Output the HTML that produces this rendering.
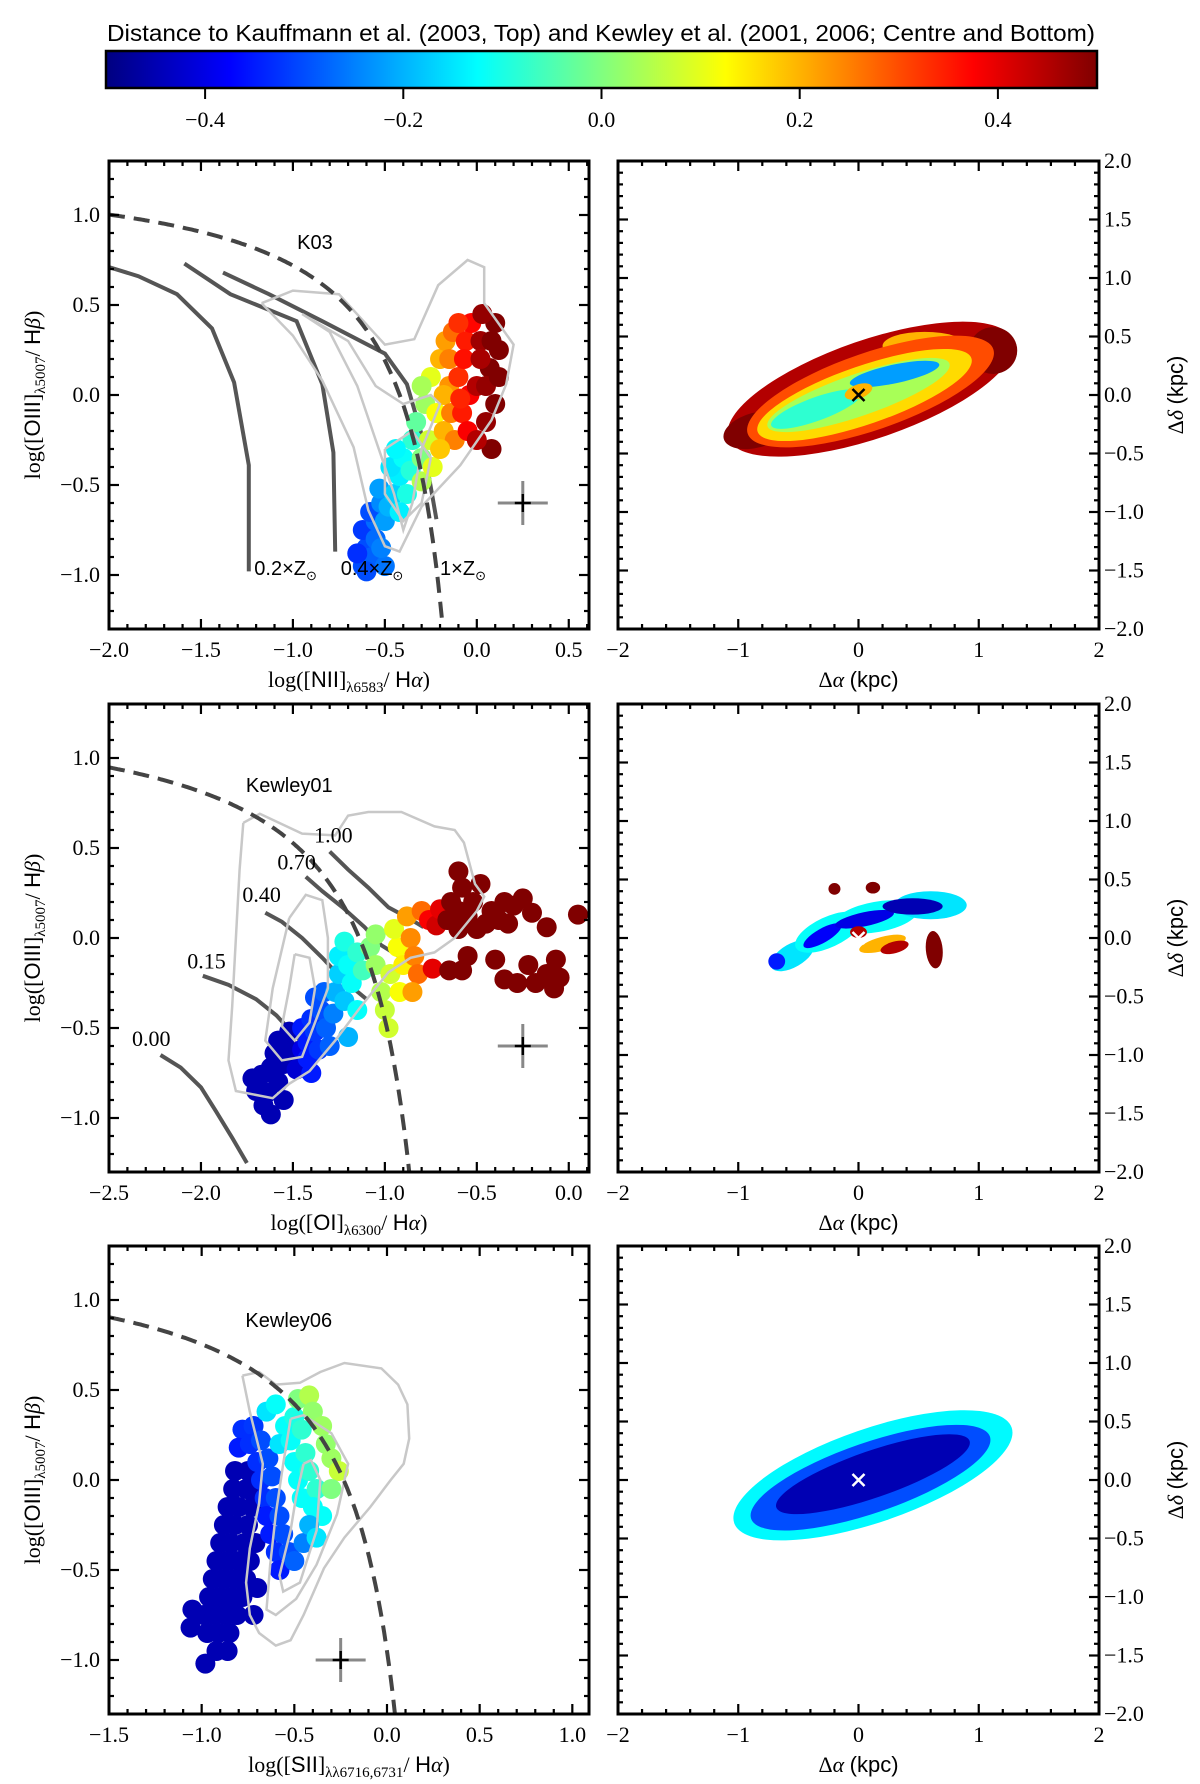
<!DOCTYPE html>
<html><head><meta charset="utf-8">
<style>
html,body{margin:0;padding:0;background:#fff;}
svg{display:block;}
text{font-family:"Liberation Serif",serif;}
.sans{font-family:"Liberation Sans",sans-serif;}
</style></head>
<body>
<svg id="fig" width="1200" height="1784" viewBox="0 0 1200 1784" xmlns="http://www.w3.org/2000/svg"></svg>
<script>
// ---------- DATA ----------
const cbarTicks = [-0.4,-0.2,0.0,0.2,0.4];
const nIIPoints = [
[-0.62,-0.95,-0.3],[-0.6,-0.85,-0.3],[-0.62,-0.75,-0.32],[-0.57,-0.9,-0.28],[-0.55,-0.8,-0.27],[-0.55,-0.7,-0.27],[-0.58,-0.65,-0.3],[-0.52,-0.6,-0.24],[-0.5,-0.7,-0.22],[-0.53,-0.52,-0.22],[-0.5,-0.95,-0.26],[-0.65,-0.88,-0.33],[-0.6,-0.98,-0.3],[-0.52,-0.85,-0.25],[-0.48,-0.62,-0.2],
[-0.45,-0.55,-0.17],[-0.42,-0.45,-0.14],[-0.47,-0.4,-0.15],[-0.4,-0.35,-0.12],[-0.38,-0.55,-0.1],[-0.42,-0.65,-0.14],[-0.35,-0.25,-0.08],[-0.44,-0.3,-0.13],[-0.36,-0.42,-0.09],
[-0.33,-0.15,-0.03],[-0.3,-0.35,0.0],[-0.28,-0.05,0.03],[-0.26,-0.25,0.08],[-0.3,-0.48,0.05],[-0.22,-0.1,0.12],[-0.25,0.1,0.1],[-0.3,0.05,0.04],[-0.24,-0.4,0.1],
[-0.2,0.2,0.2],[-0.18,-0.2,0.2],[-0.15,0.05,0.23],[-0.17,0.3,0.22],[-0.12,-0.25,0.25],[-0.2,-0.3,0.18],[-0.13,0.35,0.27],[-0.18,0.0,0.2],[-0.14,-0.1,0.25],[-0.15,0.2,0.25],
[-0.1,0.1,0.33],[-0.08,-0.1,0.35],[-0.06,0.3,0.35],[-0.05,-0.2,0.38],[-0.03,0.4,0.37],[-0.1,0.4,0.33],[-0.07,0.2,0.36],[-0.04,0.0,0.38],[-0.09,-0.02,0.34],
[0.0,0.05,0.45],[0.02,0.3,0.47],[0.05,-0.15,0.48],[0.07,0.15,0.5],[0.1,0.4,0.5],[0.1,-0.05,0.5],[0.12,0.25,0.5],[0.03,0.45,0.48],[0.08,-0.3,0.5],[0.0,-0.25,0.45],[0.05,0.05,0.48],[0.02,0.2,0.46],[0.12,0.1,0.5],[0.08,0.3,0.5]
];
const oIPoints = [
[-1.72,-0.78,-0.45],[-1.67,-0.76,-0.45],[-1.7,-0.85,-0.45],[-1.64,-0.86,-0.45],[-1.66,-0.93,-0.45],[-1.62,-0.72,-0.45],[-1.58,-0.8,-0.45],[-1.55,-0.7,-0.45],[-1.6,-0.64,-0.45],[-1.53,-0.6,-0.45],[-1.5,-0.66,-0.45],[-1.55,-0.9,-0.45],[-1.48,-0.73,-0.42],[-1.45,-0.62,-0.4],[-1.58,-0.57,-0.45],[-1.52,-0.52,-0.45],[-1.62,-0.98,-0.45],
[-1.45,-0.5,-0.35],[-1.42,-0.58,-0.35],[-1.4,-0.45,-0.33],[-1.38,-0.52,-0.32],[-1.42,-0.67,-0.35],[-1.36,-0.62,-0.32],[-1.35,-0.4,-0.3],[-1.32,-0.5,-0.28],[-1.3,-0.6,-0.28],[-1.38,-0.33,-0.3],[-1.33,-0.3,-0.28],[-1.28,-0.42,-0.25],[-1.4,-0.75,-0.35],
[-1.27,-0.3,-0.2],[-1.25,-0.2,-0.17],[-1.22,-0.35,-0.18],[-1.25,-0.1,-0.14],[-1.2,-0.15,-0.12],[-1.18,-0.25,-0.12],[-1.22,-0.02,-0.1],[-1.15,-0.08,-0.08],[-1.15,-0.4,-0.12],[-1.12,-0.18,-0.06],[-1.2,-0.55,-0.2],
[-1.08,-0.05,0.0],[-1.05,-0.15,0.03],[-1.02,-0.3,0.05],[-1.0,-0.4,0.07],[-0.98,-0.5,0.08],[-1.05,0.02,0.02],[-0.97,-0.2,0.08],[-0.93,-0.05,0.12],[-0.92,-0.3,0.12],[-0.95,0.05,0.1],[-0.9,-0.15,0.14],
[-0.88,0.12,0.22],[-0.86,0.0,0.24],[-0.84,-0.1,0.25],[-0.82,-0.2,0.27],[-0.85,-0.3,0.22],[-0.8,0.15,0.27],
[-0.76,0.1,0.38],[-0.74,-0.17,0.4],[-0.72,0.07,0.42],[-0.7,0.16,0.4],
[-0.66,0.1,0.5],[-0.64,0.2,0.5],[-0.6,0.15,0.5],[-0.6,0.05,0.5],[-0.55,0.12,0.5],[-0.52,0.2,0.5],[-0.58,0.28,0.5],[-0.5,0.05,0.5],[-0.48,0.3,0.5],[-0.45,0.08,0.5],[-0.42,0.15,0.5],[-0.38,0.1,0.5],[-0.35,0.2,0.5],[-0.33,0.08,0.5],[-0.3,0.18,0.5],[-0.6,0.37,0.5],[-0.55,-0.1,0.5],[-0.4,-0.12,0.5],[-0.35,-0.23,0.5],[-0.28,-0.25,0.5],[-0.22,-0.15,0.5],[-0.18,-0.25,0.5],[-0.12,-0.2,0.5],[-0.08,-0.28,0.5],[-0.05,-0.22,0.5],[-0.25,0.22,0.5],[-0.2,0.14,0.5],[-0.12,0.06,0.5],[-0.07,-0.12,0.5],[0.05,0.13,0.5],[-0.58,-0.18,0.5],[-0.65,-0.18,0.5]
];
const sIIPoints = [
[-0.82,0.05,-0.45],[-0.75,0.05,-0.45],[-0.83,-0.05,-0.45],[-0.76,-0.05,-0.45],[-0.7,-0.05,-0.45],[-0.86,-0.15,-0.45],[-0.8,-0.15,-0.45],[-0.73,-0.15,-0.45],[-0.88,-0.25,-0.45],[-0.82,-0.25,-0.45],[-0.75,-0.25,-0.45],
[-0.9,-0.35,-0.45],[-0.84,-0.35,-0.45],[-0.77,-0.35,-0.45],[-0.71,-0.35,-0.45],[-0.92,-0.45,-0.45],[-0.86,-0.45,-0.45],[-0.8,-0.45,-0.45],[-0.74,-0.45,-0.45],[-0.94,-0.55,-0.45],[-0.88,-0.55,-0.45],[-0.82,-0.55,-0.45],[-0.76,-0.55,-0.45],
[-0.96,-0.65,-0.45],[-0.9,-0.65,-0.45],[-0.84,-0.65,-0.45],[-0.78,-0.65,-0.45],[-0.99,-0.75,-0.45],[-0.93,-0.75,-0.45],[-0.87,-0.75,-0.45],[-0.81,-0.75,-0.45],[-0.97,-0.85,-0.45],[-0.91,-0.85,-0.45],[-0.85,-0.85,-0.45],[-0.92,-0.95,-0.45],[-0.86,-0.95,-0.45],
[-1.05,-0.72,-0.45],[-1.06,-0.82,-0.45],[-0.98,-1.02,-0.45],[-0.7,-0.6,-0.45],[-0.72,-0.75,-0.45],
[-0.78,0.28,-0.33],[-0.72,0.3,-0.32],[-0.8,0.18,-0.35],[-0.74,0.2,-0.33],[-0.68,0.22,-0.3],[-0.7,0.1,-0.33],[-0.64,0.12,-0.3],[-0.68,0.0,-0.33],[-0.62,0.02,-0.3],[-0.66,-0.1,-0.33],[-0.6,-0.1,-0.3],[-0.65,-0.2,-0.35],[-0.58,-0.2,-0.3],[-0.63,-0.3,-0.35],[-0.56,-0.3,-0.3],[-0.6,-0.4,-0.33],[-0.53,-0.4,-0.3],[-0.58,-0.5,-0.35],[-0.5,-0.45,-0.28],[-0.45,-0.35,-0.25],
[-0.65,0.38,-0.15],[-0.6,0.42,-0.12],[-0.55,0.3,-0.12],[-0.5,0.35,-0.1],[-0.58,0.2,-0.15],[-0.52,0.22,-0.12],[-0.46,0.28,-0.08],[-0.5,0.1,-0.12],[-0.44,0.15,-0.08],[-0.48,0.0,-0.12],[-0.42,0.05,-0.08],[-0.46,-0.1,-0.12],[-0.38,-0.05,-0.08],[-0.4,-0.15,-0.12],[-0.35,-0.2,-0.12],[-0.42,-0.25,-0.2],[-0.38,-0.32,-0.15],
[-0.48,0.45,0.0],[-0.42,0.47,0.05],[-0.4,0.38,0.02],[-0.35,0.3,0.03],[-0.33,0.2,0.02],[-0.3,0.12,0.03],[-0.26,0.05,0.07],[-0.3,-0.05,0.0]
];
const nIIContours = [
[[-1.17,0.51],[-1.0,0.58],[-0.75,0.56],[-0.5,0.28],[-0.34,0.31],[-0.21,0.61],[-0.05,0.75],[0.04,0.71],[0.04,0.51],[0.2,0.28],[0.16,0.06],[0.08,-0.14],[-0.09,-0.39],[-0.3,-0.62],[-0.42,-0.87],[-0.5,-0.84],[-0.59,-0.64],[-0.67,-0.29],[-0.84,0.08],[-1.0,0.33],[-1.17,0.51]],
[[-0.95,0.45],[-0.8,0.35],[-0.65,0.05],[-0.55,-0.25],[-0.45,-0.55],[-0.4,-0.75],[-0.35,-0.6],[-0.3,-0.3],[-0.2,-0.05],[-0.25,0.0],[-0.4,-0.05],[-0.55,0.05],[-0.7,0.3],[-0.95,0.45]],
[[-0.5,-0.3],[-0.35,-0.2],[-0.25,-0.35],[-0.3,-0.6],[-0.4,-0.7],[-0.5,-0.55],[-0.5,-0.3]]
];
const oIContours = [
[[-1.77,0.64],[-1.68,0.69],[-1.45,0.58],[-1.27,0.57],[-1.2,0.68],[-1.09,0.70],[-0.91,0.70],[-0.73,0.62],[-0.62,0.60],[-0.57,0.53],[-0.51,0.30],[-0.46,0.23],[-0.5,0.15],[-0.62,0.0],[-0.73,-0.08],[-0.86,-0.11],[-0.98,-0.19],[-1.13,-0.38],[-1.27,-0.57],[-1.41,-0.74],[-1.52,-0.81],[-1.61,-0.89],[-1.81,-0.85],[-1.85,-0.68],[-1.83,-0.38],[-1.81,0.0],[-1.79,0.38],[-1.77,0.64]],
[[-1.52,0.11],[-1.43,0.24],[-1.34,0.21],[-1.31,0],[-1.31,-0.28],[-1.38,-0.47],[-1.45,-0.66],[-1.56,-0.68],[-1.65,-0.57],[-1.61,-0.28],[-1.52,0.11]],
[[-1.49,-0.09],[-1.41,-0.11],[-1.38,-0.28],[-1.41,-0.47],[-1.49,-0.57],[-1.56,-0.49],[-1.52,-0.28],[-1.49,-0.09]]
];
const sIIContours = [
[[-0.78,0.58],[-0.69,0.60],[-0.6,0.53],[-0.47,0.54],[-0.36,0.60],[-0.23,0.65],[-0.03,0.62],[0.06,0.53],[0.11,0.42],[0.12,0.23],[0.09,0.09],[0.02,0],[-0.09,-0.15],[-0.23,-0.32],[-0.34,-0.49],[-0.45,-0.75],[-0.52,-0.89],[-0.6,-0.92],[-0.69,-0.85],[-0.74,-0.75],[-0.76,-0.57],[-0.74,-0.38],[-0.69,-0.13],[-0.67,0.09],[-0.74,0.38],[-0.78,0.58]],
[[-0.52,0.34],[-0.45,0.36],[-0.30,0.26],[-0.21,0.09],[-0.27,-0.19],[-0.38,-0.47],[-0.49,-0.66],[-0.6,-0.75],[-0.65,-0.72],[-0.63,-0.47],[-0.6,-0.19],[-0.56,0.09],[-0.52,0.34]],
[[-0.45,0.09],[-0.41,0.11],[-0.36,0],[-0.38,-0.28],[-0.47,-0.57],[-0.56,-0.62],[-0.58,-0.53],[-0.52,-0.28],[-0.49,-0.09],[-0.45,0.09]]
];
const nIIModels = [
[[-2,0.71],[-1.84,0.66],[-1.63,0.56],[-1.44,0.37],[-1.32,0.07],[-1.24,-0.39],[-1.24,-0.98]],
[[-1.59,0.73],[-1.34,0.56],[-0.98,0.41],[-0.84,0.06],[-0.78,-0.32],[-0.77,-0.87]],
[[-1.38,0.68],[-1.13,0.56],[-0.84,0.41],[-0.5,0.23],[-0.38,0.06],[-0.3,-0.22],[-0.22,-0.69]]
];
const nIIModelLabels = ["0.2×Z","0.4×Z","1×Z"];
const nIIModelLabelPos = [[-1.21,-0.96],[-0.74,-0.96],[-0.2,-0.96]];
const oIModels = [
[[-2.22,-0.65],[-2.11,-0.72],[-2.0,-0.83],[-1.92,-0.96],[-1.83,-1.11],[-1.75,-1.25]],
[[-1.99,-0.21],[-1.85,-0.26],[-1.7,-0.34],[-1.59,-0.43],[-1.49,-0.54],[-1.36,-0.67]],
[[-1.65,0.14],[-1.56,0.09],[-1.45,0],[-1.34,-0.11],[-1.23,-0.23],[-1.1,-0.34]],
[[-1.43,0.34],[-1.34,0.26],[-1.23,0.17],[-1.11,0.06],[-1.02,-0.04],[-0.91,-0.11]],
[[-1.3,0.48],[-1.2,0.38],[-1.09,0.28],[-0.98,0.17],[-0.87,0.11],[-0.79,0.06]]
];
const oIModelLabels = ["0.00","0.15","0.40","0.70","1.00"];
const oIModelLabelPos = [[-2.27,-0.56],[-1.97,-0.13],[-1.67,0.24],[-1.48,0.42],[-1.28,0.57]];
// maps: ellipse layers [cx, cy, rx, ry, angleDeg, distance]
const map1Layers = [
[0.1,0.05,1.25,0.42,19,0.45],[1.12,0.38,0.2,0.2,0,0.5],[-0.85,-0.3,0.28,0.15,15,0.5],[0.55,0.42,0.35,0.12,0,0.2],
[0.1,0.03,1.08,0.33,19,0.3],[0.05,0.0,0.94,0.25,19,0.16],[0.0,0.0,0.8,0.18,19,0.04],
[-0.35,-0.12,0.4,0.1,20,-0.08],[0.3,0.18,0.38,0.08,12,-0.22],[0.0,0.03,0.12,0.06,20,0.2]
];
const map2Layers = [
[-0.55,-0.15,0.2,0.1,30,-0.15],[-0.25,0.05,0.3,0.13,25,-0.12],[0.15,0.18,0.35,0.13,10,-0.12],[0.6,0.28,0.3,0.12,0,-0.15],
[-0.3,0.02,0.18,0.06,30,-0.38],[0.05,0.16,0.25,0.06,12,-0.4],[0.45,0.27,0.25,0.07,0,-0.45],[-0.68,-0.2,0.07,0.07,0,-0.35],
[0.2,-0.05,0.2,0.06,15,0.2],[0.3,-0.08,0.12,0.05,15,0.45],[0.0,0.05,0.07,0.05,0,0.45],
[0.63,-0.1,0.07,0.16,5,0.5],[-0.2,0.42,0.05,0.05,0,0.5],[0.12,0.43,0.06,0.05,0,0.5]
];
const map3Layers = [
[0.12,0.04,1.22,0.4,19,-0.13],[0.1,0.02,1.05,0.3,19,-0.3],[0.12,0.05,0.85,0.2,19,-0.45]
];

// ---------- HELPERS ----------
const NS="http://www.w3.org/2000/svg";
const svg=document.getElementById('fig');
function mk(tag,attrs,parent){const e=document.createElementNS(NS,tag);for(const k in attrs)e.setAttribute(k,attrs[k]);(parent||svg).appendChild(e);return e;}
function jet(v){let t=(v+0.5)/1.0;t=Math.max(0,Math.min(1,t));
 const c=x=>Math.round(255*Math.max(0,Math.min(1,x)));
 return `rgb(${c(1.5-Math.abs(4*t-3))},${c(1.5-Math.abs(4*t-2))},${c(1.5-Math.abs(4*t-1))})`;}
function fmt(v,d){const s=Math.abs(v).toFixed(d);return (v<-1e-9?'−':'')+s;}

// ---------- COLORBAR ----------
const defs=mk('defs',{});
const grad=mk('linearGradient',{id:'jetg',x1:'0',x2:'1',y1:'0',y2:'0'},defs);
for(let i=0;i<=40;i++){mk('stop',{offset:(i/40),'stop-color':jet(-0.5+i/40)},grad);}
const cb={x0:106,x1:1097,y0:51,y1:88};
const cbx=v=>cb.x0+(v+0.5)*(cb.x1-cb.x0);
let t=mk('text',{x:601,y:41,'text-anchor':'middle','font-size':23.5,class:'sans',textLength:988,lengthAdjust:'spacingAndGlyphs'});
t.textContent='Distance to Kauffmann et al. (2003, Top) and Kewley et al. (2001, 2006; Centre and Bottom)';


let r=mk('rect',{x:cb.x0,y:cb.y0,width:cb.x1-cb.x0,height:cb.y1-cb.y0,fill:'url(#jetg)',stroke:'#000','stroke-width':2.5});


cbarTicks.forEach(v=>{const x=cbx(v);mk('line',{x1:x,x2:x,y1:cb.y1,y2:cb.y1+11,stroke:'#000','stroke-width':2});
 const tt=mk('text',{x:x,y:127,'text-anchor':'middle','font-size':22});tt.textContent=fmt(v,1);
 
 });

// ---------- PANELS ----------
const rowsTop=[161,704,1246], PH=468;
function makeAxes(x0,y0,w,h,xmin,xmax,ymin,ymax){
 return {x0,y0,w,h,sx:v=>x0+(v-xmin)/(xmax-xmin)*w,sy:v=>y0+h-(v-ymin)/(ymax-ymin)*h,xmin,xmax,ymin,ymax};}
function drawTicks(ax,xMaj,xMin,yMaj,yMin,g){
 const L=10,l=5;
 const eps=1e-6;
 for(let v=Math.ceil(ax.xmin/xMin-eps)*xMin;v<=ax.xmax+eps;v+=xMin){
  const isMaj=Math.abs(v/xMaj-Math.round(v/xMaj))<1e-4;const len=isMaj?L:l;const x=ax.sx(v);
  mk('line',{x1:x,x2:x,y1:ax.y0+ax.h,y2:ax.y0+ax.h-len,stroke:'#000','stroke-width':2.2},g);
  mk('line',{x1:x,x2:x,y1:ax.y0,y2:ax.y0+len,stroke:'#000','stroke-width':2.2},g);}
 for(let v=Math.ceil(ax.ymin/yMin-eps)*yMin;v<=ax.ymax+eps;v+=yMin){
  const isMaj=Math.abs(v/yMaj-Math.round(v/yMaj))<1e-4;const len=isMaj?L:l;const y=ax.sy(v);
  mk('line',{x1:ax.x0,x2:ax.x0+len,y1:y,y2:y,stroke:'#000','stroke-width':2.2},g);
  mk('line',{x1:ax.x0+ax.w,x2:ax.x0+ax.w-len,y1:y,y2:y,stroke:'#000','stroke-width':2.2},g);}
}
function frame(ax,g){mk('rect',{x:ax.x0,y:ax.y0,width:ax.w,height:ax.h,fill:'none',stroke:'#000','stroke-width':3},g);}
function poly(ax,pts,attrs,g){const d=pts.map((p,i)=>(i?'L':'M')+ax.sx(p[0]).toFixed(1)+','+ax.sy(p[1]).toFixed(1)).join('');return mk('path',Object.assign({d:d,fill:'none'},attrs),g);}
function curve(ax,f,xa,xb,g){const pts=[];for(let i=0;i<=200;i++){const x=xa+(xb-xa)*i/200;const y=f(x);if(y>=ax.ymin-0.05&&y<=ax.ymax+0.05)pts.push([x,y]);}
 return poly(ax,pts,{stroke:'#444','stroke-width':4,'stroke-dasharray':'16,9'},g);}
function errCross(ax,x,y,g){
 const gx=ax.sx(x),gy=ax.sy(y);
 mk('line',{x1:gx-25,x2:gx+25,y1:gy,y2:gy,stroke:'#888','stroke-width':3},g);
 mk('line',{x1:gx,x2:gx,y1:gy-22,y2:gy+22,stroke:'#888','stroke-width':3},g);
 mk('line',{x1:gx-8,x2:gx+8,y1:gy,y2:gy,stroke:'#000','stroke-width':2.5},g);
 mk('line',{x1:gx,x2:gx,y1:gy-9,y2:gy+9,stroke:'#000','stroke-width':2.5},g);
}
function yLabelLeft(ax,g){
 const cx=40,cy=ax.y0+ax.h/2;
 const tx=mk('text',{x:0,y:0,'text-anchor':'middle','font-size':22,transform:`translate(${cx},${cy}) rotate(-90)`},g);
 tx.innerHTML='log([<tspan class="sans">OIII</tspan>]<tspan font-size="15" dy="5">λ5007</tspan><tspan dy="-5">/ </tspan><tspan class="sans">H</tspan><tspan font-style="italic">β</tspan>)';
 
 
}
function leftTickLabels(ax,xt,yt,g){
 xt.forEach(v=>{const e=mk('text',{x:ax.sx(v),y:ax.y0+ax.h+28,'text-anchor':'middle','font-size':22},g);e.textContent=fmt(v,1);
  
  });
 yt.forEach(v=>{const e=mk('text',{x:ax.x0-9,y:ax.sy(v)+7,'text-anchor':'end','font-size':22},g);e.textContent=fmt(v,1);
  
  });
}
function scatter(ax,pts,g,name){
 pts.forEach(p=>{const c=mk('circle',{cx:ax.sx(p[0]),cy:ax.sy(p[1]),r:10,fill:jet(p[2])},g);
  
  });
}

const xTicksMap=[-2,-1,0,1,2], yTicksMap=[2,1.5,1,0.5,0,-0.5,-1,-1.5,-2];
const yTicksLeft=[1.0,0.5,0.0,-0.5,-1.0];
const leftCfg=[
 {xmin:-2,xmax:0.61,xt:[-2,-1.5,-1,-0.5,0,0.5],xlab:'log([<tspan class="sans">NII</tspan>]<tspan font-size="15" dy="5">λ6583</tspan><tspan dy="-5">/ </tspan><tspan class="sans">H</tspan><tspan font-style="italic">α</tspan>)',pts:nIIPoints,cont:nIIContours,name:'bpt-nii'},
 {xmin:-2.5,xmax:0.11,xt:[-2.5,-2,-1.5,-1,-0.5,0],xlab:'log([<tspan class="sans">OI</tspan>]<tspan font-size="15" dy="5">λ6300</tspan><tspan dy="-5">/ </tspan><tspan class="sans">H</tspan><tspan font-style="italic">α</tspan>)',pts:oIPoints,cont:oIContours,name:'bpt-oi'},
 {xmin:-1.5,xmax:1.09,xt:[-1.5,-1,-0.5,0,0.5,1],xlab:'log([<tspan class="sans">SII</tspan>]<tspan font-size="15" dy="5">λλ6716,6731</tspan><tspan dy="-5">/ </tspan><tspan class="sans">H</tspan><tspan font-style="italic">α</tspan>)',pts:sIIPoints,cont:sIIContours,name:'bpt-sii'}
];
const demLabels=[['K03',-0.88,0.85],['Kewley01',-1.52,0.85],['Kewley06',-0.53,0.89]];
const mapLayers=[map1Layers,map2Layers,map3Layers];
const crossColors=['#000','#fff','#fff'];

leftCfg.forEach((cfg,i)=>{
 const g=mk('g',{});
 
 
 const ax=makeAxes(109,rowsTop[i],480,PH,cfg.xmin,cfg.xmax,-1.3,1.3);
 const clipId='clipL'+i;
 const cp=mk('clipPath',{id:clipId},defs);mk('rect',{x:ax.x0,y:ax.y0,width:ax.w,height:ax.h},cp);
 const inner=mk('g',{'clip-path':`url(#${clipId})`},g);
 if(i===0){
  nIIModels.forEach(m=>{const p=poly(ax,m,{stroke:'#555','stroke-width':4},inner);
   
   });
 }
 if(i===1){
  oIModels.forEach(m=>{const p=poly(ax,m,{stroke:'#555','stroke-width':4},inner);
   
   });
 }
 scatter(ax,cfg.pts,inner,'spaxel-point');
 cfg.cont.forEach(c=>{const p=poly(ax,c,{stroke:'#c8c8c8','stroke-width':2.5},inner);
  
  });
 let dl;
 if(i===0){dl=curve(ax,x=>0.61/(x-0.05)+1.3,-2,0.0,inner);}
 if(i===1){dl=curve(ax,x=>0.73/(x+0.59)+1.33,-2.5,-0.6,inner);}
 if(i===2){dl=curve(ax,x=>0.72/(x-0.32)+1.30,-1.5,0.31,inner);}
 
 
 if(i===0){nIIModelLabels.forEach((s,k)=>{const e=mk('text',{x:ax.sx(nIIModelLabelPos[k][0]),y:ax.sy(nIIModelLabelPos[k][1])+7,'font-size':20,class:'sans'},g);
   e.innerHTML=s+'<tspan font-size="13" dy="5">⊙</tspan>';
   
   });}
 if(i===1){oIModelLabels.forEach((s,k)=>{const e=mk('text',{x:ax.sx(oIModelLabelPos[k][0]),y:ax.sy(oIModelLabelPos[k][1])+7,'text-anchor':'middle','font-size':22},g);
   e.textContent=s;
   
   });}
 const lbl=demLabels[i];
 const le=mk('text',{x:ax.sx(lbl[1]),y:ax.sy(lbl[2])+7,'text-anchor':'middle','font-size':20,class:'sans'},g);
 le.textContent=lbl[0];
 
 
 const ex=[[0.25,-0.6],[-0.25,-0.6],[-0.25,-1.0]][i];
 errCross(ax,ex[0],ex[1],g);
 drawTicks(ax,0.5,0.1,0.5,0.1,g);
 frame(ax,g);
 leftTickLabels(ax,cfg.xt,yTicksLeft,g);
 yLabelLeft(ax,g);
 const xl=mk('text',{x:ax.x0+ax.w/2,y:ax.y0+ax.h+58,'text-anchor':'middle','font-size':22},g);
 xl.innerHTML=cfg.xlab;
 
 

 // ---- right map panel ----
 const gm=mk('g',{});
 
 
 const am=makeAxes(618,rowsTop[i],481,PH,-2,2,-2,2);
 const ppx=am.w/4, ppy=am.h/4;
 mapLayers[i].forEach(L=>{const e=mk('ellipse',{cx:am.sx(L[0]),cy:am.sy(L[1]),rx:L[2]*ppx,ry:L[3]*ppy,fill:jet(L[5]),
   transform:`rotate(${-L[4]} ${am.sx(L[0])} ${am.sy(L[1])})`},gm);
  
  });
 const cx=am.sx(0),cy=am.sy(0),cc=crossColors[i];
 const cr=mk('path',{d:`M${cx-6},${cy-6}L${cx+6},${cy+6}M${cx-6},${cy+6}L${cx+6},${cy-6}`,stroke:cc,'stroke-width':2.5},gm);
 
 
 drawTicks(am,1,0.2,0.5,0.1,gm);
 frame(am,gm);
 xTicksMap.forEach(v=>{const e=mk('text',{x:am.sx(v),y:am.y0+am.h+28,'text-anchor':'middle','font-size':22},gm);e.textContent=fmt(v,0);
  
  });
 yTicksMap.forEach(v=>{const e=mk('text',{x:am.x0+am.w+5,y:am.sy(v)+7,'font-size':22},gm);e.textContent=fmt(v,1);
  
  });
 const mx=mk('text',{x:am.x0+am.w/2,y:am.y0+am.h+58,'text-anchor':'middle','font-size':22},gm);
 mx.innerHTML='Δ<tspan font-style="italic">α</tspan> <tspan class="sans">(kpc)</tspan>';
 
 
 const my=mk('text',{x:0,y:0,'text-anchor':'middle','font-size':22,transform:`translate(1183,${am.y0+am.h/2}) rotate(-90)`},gm);
 my.innerHTML='Δ<tspan font-style="italic">δ</tspan> <tspan class="sans">(kpc)</tspan>';
 
 
});
</script>
</body></html>
